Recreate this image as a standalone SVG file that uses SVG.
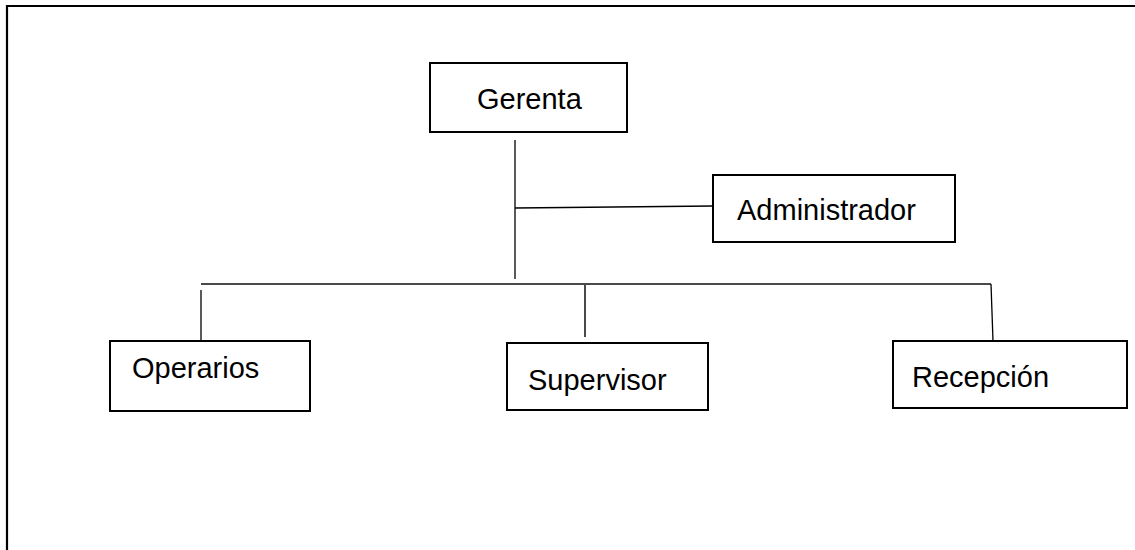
<svg xmlns="http://www.w3.org/2000/svg" width="1135" height="550" viewBox="0 0 1135 550">
  <style>
    .box { fill: #ffffff; stroke: #000000; stroke-width: 2; }
    .label { font-family: "Liberation Sans", Arial, sans-serif; font-size: 29px; fill: #000000; }
    .link { stroke: #000000; stroke-width: 1.3; fill: none; }
    .bus { stroke: #4a4a4a; stroke-width: 2; fill: none; }
    .frame { stroke: #000000; stroke-width: 2.2; fill: none; }
  </style>
  <rect x="0" y="0" width="1135" height="550" fill="#ffffff"/>

  <!-- page frame: top and left edges -->
  <path class="frame" d="M7,550 V6 H1135"/>

  <!-- connectors -->
  <g id="connectors">
    <line class="link" x1="515" y1="140" x2="515" y2="279"/>
    <line class="link" x1="515" y1="208" x2="713" y2="206"/>
    <line class="bus" x1="201" y1="284" x2="991" y2="284"/>
    <line class="link" x1="201" y1="290" x2="201" y2="341"/>
    <line class="bus" x1="585" y1="285" x2="585" y2="337"/>
    <line class="link" x1="991" y1="284" x2="993" y2="341"/>
  </g>

  <g id="gerenta">
    <rect class="box" x="430" y="63" width="197" height="69"/>
    <text class="label" x="477" y="109">Gerenta</text>
  </g>

  <g id="administrador">
    <rect class="box" x="713" y="175" width="242" height="67"/>
    <text class="label" x="737" y="220">Administrador</text>
  </g>

  <g id="operarios">
    <rect class="box" x="110" y="341" width="200" height="70"/>
    <text class="label" x="132" y="378">Operarios</text>
  </g>

  <g id="supervisor">
    <rect class="box" x="507" y="343" width="201" height="67"/>
    <text class="label" x="528" y="390">Supervisor</text>
  </g>

  <g id="recepcion">
    <rect class="box" x="893" y="341" width="234" height="67"/>
    <text class="label" x="912" y="387">Recepción</text>
  </g>
</svg>
